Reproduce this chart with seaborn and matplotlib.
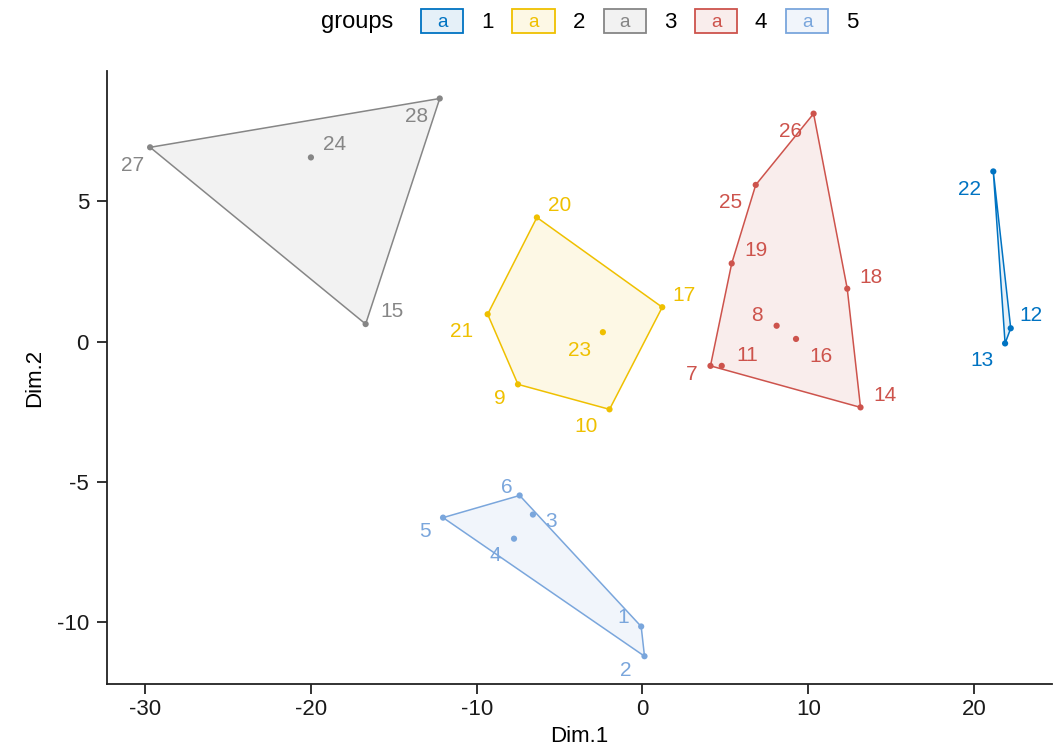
import numpy as np
import pandas as pd
import matplotlib
matplotlib.use("Agg")
import matplotlib.pyplot as plt
import seaborn as sns
from matplotlib.patches import Rectangle, Polygon, Patch
from matplotlib.text import Text
from matplotlib.legend_handler import HandlerBase
from matplotlib.colors import to_rgba

# ---------------- data ----------------
obs = [str(i) for i in range(1, 29)]
dim1 = [-0.08, 0.12, -6.61, -7.75, -12.03, -7.41, 4.10, 8.09, -7.51, -1.99,
        4.78, 22.21, 21.87, 13.15, -16.70, 9.26, 1.19, 12.35, 5.38, -6.37,
        -9.34, 21.16, -2.39, -20.00, 6.83, 10.32, -29.70, -12.23]
dim2 = [-10.15, -11.21, -6.16, -7.02, -6.27, -5.48, -0.86, 0.57, -1.52, -2.41,
        -0.86, 0.48, -0.06, -2.34, 0.63, 0.10, 1.23, 1.89, 2.79, 4.43,
        0.98, 6.07, 0.34, 6.57, 5.59, 8.13, 6.93, 8.67]
groups = ["5", "5", "5", "5", "5", "5", "4", "4", "2", "2",
          "4", "1", "1", "4", "3", "4", "2", "4", "4", "2",
          "2", "1", "2", "3", "4", "4", "3", "3"]
group_levels = ["1", "2", "3", "4", "5"]
group_colors = ["#0073C2", "#EFC000", "#868686", "#CD534C", "#7AA6DC"]

# label offsets in pixels (dx, dy up) -- styling only
label_offsets = {
    "1": (-18, 9), "2": (-19, -14), "3": (18, -7), "4": (-19, -17), "5": (-18, -14),
    "6": (-13, 8), "7": (-19, -9), "8": (-20, 10), "9": (-18, -14), "10": (-23, -17),
    "11": (26, 10), "12": (20, 13), "13": (-23, -17), "14": (24, 12), "15": (26, 13),
    "16": (25, -18), "17": (22, 12), "18": (24, 11), "19": (24, 13), "20": (23, 12),
    "21": (-26, -17), "22": (-24, -18), "23": (-23, -18), "24": (24, 13), "25": (-25, -18),
    "26": (-23, -18), "27": (-18, -18), "28": (-23, -18),
}

df = pd.DataFrame({"name": obs, "Dim.1": dim1, "Dim.2": dim2, "groups": groups})
palette = dict(zip(group_levels, group_colors))


def convex_hull(points):
    pts = sorted(set(map(tuple, points)))
    if len(pts) <= 2:
        return pts

    def cross(o, a, b):
        return (a[0] - o[0]) * (b[1] - o[1]) - (a[1] - o[1]) * (b[0] - o[0])
    lower = []
    for p in pts:
        while len(lower) >= 2 and cross(lower[-2], lower[-1], p) <= 0:
            lower.pop()
        lower.append(p)
    upper = []
    for p in reversed(pts):
        while len(upper) >= 2 and cross(upper[-2], upper[-1], p) <= 0:
            upper.pop()
        upper.append(p)
    return lower[:-1] + upper[:-1]


plt.rcParams["font.family"] = ["Liberation Sans", "DejaVu Sans"]
fig = plt.figure(figsize=(10.56, 7.53), dpi=100)
ax = fig.add_axes([107 / 1056, 1 - 684 / 753, (1052 - 107) / 1056, (684 - 71) / 753])

# hulls
for g, col in zip(group_levels, group_colors):
    sub = df[df["groups"] == g]
    hull = convex_hull(sub[["Dim.1", "Dim.2"]].values)
    poly = Polygon(hull, closed=True, facecolor=to_rgba(col, 0.1),
                   edgecolor=col, lw=1.1, zorder=1)
    ax.add_patch(poly)

sns.scatterplot(data=df, x="Dim.1", y="Dim.2", hue="groups", palette=palette,
                hue_order=group_levels, s=20, edgecolor="none", legend=False,
                ax=ax, zorder=3)

for _, r in df.iterrows():
    dx, dy = label_offsets[r["name"]]
    ax.annotate(r["name"], (r["Dim.1"], r["Dim.2"]), xytext=(dx, dy),
                textcoords="offset pixels", ha="center", va="center",
                fontsize=15, color=palette[r["groups"]], zorder=4)

ax.set_xlim(-32.3, 24.7)
ax.set_ylim(-12.2, 9.65)
ax.set_xticks([-30, -20, -10, 0, 10, 20])
ax.set_yticks([-10, -5, 0, 5])
ax.set_xticklabels(["-30", "-20", "-10", "0", "10", "20"])
ax.set_yticklabels(["-10", "-5", "0", "5"])
sns.despine(ax=ax)
for s in ["left", "bottom"]:
    ax.spines[s].set_linewidth(1.3)
    ax.spines[s].set_color("#222222")
ax.tick_params(axis="both", labelsize=16, length=7, width=1.3,
               color="#222222", labelcolor="#1a1a1a")
ax.tick_params(axis="x", pad=4)
ax.tick_params(axis="y", pad=6)
ax.set_xlabel("Dim.1", fontsize=16, labelpad=4)
ax.set_ylabel("Dim.2", fontsize=16, labelpad=8)


class KeyHandler(HandlerBase):
    def create_artists(self, legend, orig_handle, xdescent, ydescent,
                       width, height, fontsize, trans):
        col = orig_handle.get_edgecolor()
        rect = Rectangle((-xdescent, -ydescent), width, height,
                         facecolor=orig_handle.get_facecolor(), edgecolor=col,
                         lw=1.3, transform=trans)
        txt = Text(-xdescent + width / 2, -ydescent + height / 2 - 1, "a",
                   color=col, ha="center", va="center", fontsize=fontsize * 0.85,
                   transform=trans)
        return [rect, txt]


handles = [Patch(facecolor=to_rgba(c, 0.1), edgecolor=c) for c in group_colors]
fig.legend(handles, group_levels, handler_map={Patch: KeyHandler()},
           loc="center left", bbox_to_anchor=(421 / 1056, 1 - 21 / 753),
           ncol=5, frameon=False, fontsize=16, handlelength=1.9,
           handleheight=1.35, handletextpad=0.8, columnspacing=0.85,
           borderpad=0, borderaxespad=0)
fig.text(357 / 1056, 1 - 22 / 753, "groups", ha="center", va="center", fontsize=17)

fig.savefig("out.png", dpi=100)
